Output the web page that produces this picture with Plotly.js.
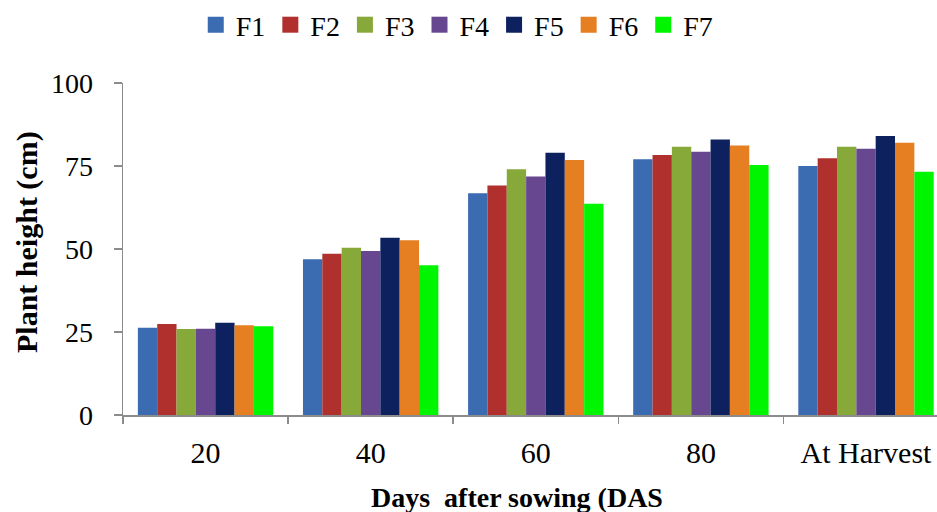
<!DOCTYPE html>
<html>
<head>
<meta charset="utf-8">
<script src="https://cdn.plot.ly/plotly-3.0.1.min.js"></script>
<style>html,body{margin:0;padding:0;background:#fff;}#chart{width:937px;height:512px;}</style>
</head>
<body>
<div id="chart"></div>
<script>
const categories = ["20", "40", "60", "80", "At Harvest"];
const seriesNames = ["F1", "F2", "F3", "F4", "F5", "F6", "F7"];
const F1 = [26.3, 46.9, 66.8, 77.0, 75.0];
const F2 = [27.4, 48.6, 69.1, 78.3, 77.3];
const F3 = [25.9, 50.4, 74.0, 80.8, 80.8];
const F4 = [26.0, 49.4, 71.8, 79.3, 80.2];
const F5 = [27.8, 53.4, 79.0, 83.0, 84.0];
const F6 = [27.0, 52.6, 76.8, 81.2, 82.0];
const F7 = [26.7, 45.1, 63.6, 75.3, 73.3];
const seriesValues = [F1, F2, F3, F4, F5, F6, F7];
const colors = ["#3B6BB0", "#B0302D", "#87A93A", "#67478F", "#0D215E", "#E67E22", "#00F500"];
const xTitle = "Days\u00A0 after sowing (DAS";
const yTitle = "Plant height (cm)";

const barTraces = seriesNames.map((name, i) => ({
  type: "bar",
  name: name,
  x: categories,
  y: seriesValues[i],
  showlegend: false,
  legendgroup: name,
  marker: {color: colors[i], line: {width: 0}}
}));
const legendTraces = seriesNames.map((name, i) => ({
  type: "scatter",
  mode: "markers",
  name: name,
  x: [categories[0]],
  y: [null],
  legendgroup: name,
  marker: {symbol: "square", size: 16, color: colors[i]},
  hoverinfo: "skip"
}));

const font = "Liberation Serif, Times New Roman, serif";
const titleFont = {family: font, size: 28, color: "#000", weight: "bold"};
const layout = {
  width: 937, height: 512,
  margin: {l: 123, r: 0, t: 83, b: 97},
  paper_bgcolor: "#fff", plot_bgcolor: "#fff",
  font: {family: font, color: "#000", size: 20},
  barmode: "group",
  bargap: 0.18,
  bargroupgap: 0,
  showlegend: true,
  legend: {
    orientation: "h",
    xref: "container", yref: "container",
    x: 0.488, xanchor: "center",
    y: 1.0, yanchor: "top",
    font: {family: font, size: 28, color: "#000"},
    itemwidth: 30,
    tracegroupgap: 0
  },
  xaxis: {
    type: "category",
    range: [-0.5, 4.43],
    showline: true, linecolor: "#8c8c8c", linewidth: 1.5,
    ticks: "outside", tickson: "boundaries", ticklen: 7, tickcolor: "#8c8c8c", tickwidth: 1.5,
    showgrid: false, zeroline: false,
    tickfont: {family: font, size: 30, color: "#000"},
    ticklabelstandoff: 10
  },
  yaxis: {
    range: [0, 100],
    tickvals: [0, 25, 50, 75, 100],
    showline: true, linecolor: "#8c8c8c", linewidth: 1.5,
    ticks: "outside", ticklen: 8, tickcolor: "#8c8c8c", tickwidth: 1.5,
    showgrid: false, zeroline: false,
    tickfont: {family: font, size: 28, color: "#000"},
    ticklabelstandoff: 15
  },
  annotations: [
    {text: xTitle, xref: "paper", yref: "paper", x: 0.484, y: -0.247,
     xanchor: "center", yanchor: "middle", showarrow: false, font: titleFont},
    {text: yTitle, xref: "paper", yref: "paper", x: -0.118, y: 0.521, textangle: -90,
     xanchor: "center", yanchor: "middle", showarrow: false, font: {family: font, size: 30, color: "#000", weight: "bold"}}
  ]
};

Plotly.newPlot("chart", barTraces.concat(legendTraces), layout, {displayModeBar: false, staticPlot: true});
</script>
</body>
</html>
